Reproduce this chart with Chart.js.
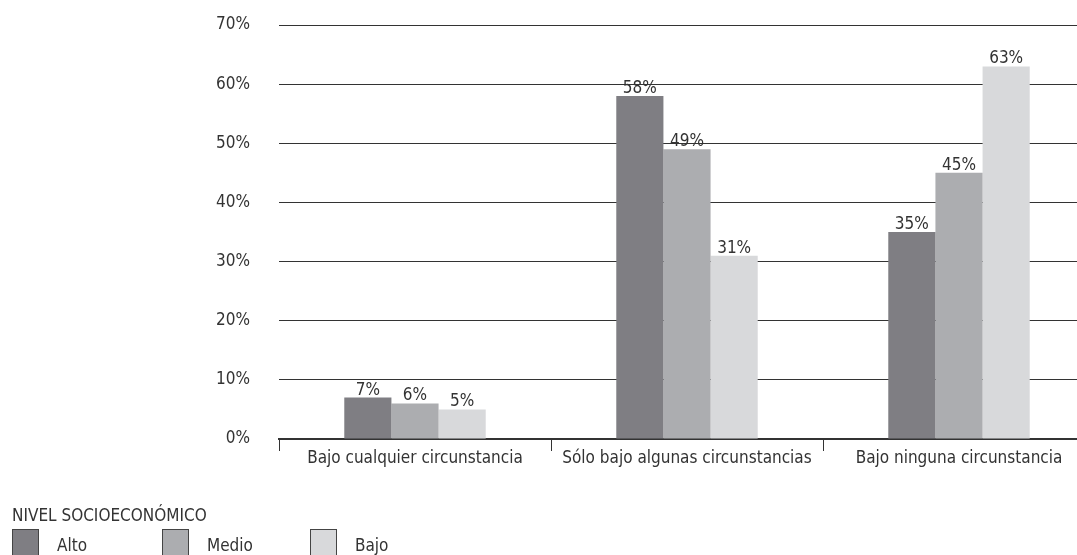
<!DOCTYPE html>
<html lang="es">
<head>
<meta charset="utf-8">
<script src="https://cdn.jsdelivr.net/npm/chart.js@4/dist/chart.umd.min.js"></script>
<style>
  html, body { margin: 0; padding: 0; background: #fff; }
  body { width: 1077px; height: 555px; position: relative; overflow: hidden;
         font-family: "Liberation Sans Narrow", "DejaVu Sans Condensed", sans-serif; color: #333; }
  #wrap { position: absolute; left: 0; top: 0; width: 1100px; height: 555px; }
  #legend { position: absolute; left: 12px; top: 505px; font-size: 17px; }
  #legend .items { position: relative; height: 40px; margin-top: 4px; }
  #legend .item { position: absolute; top: 0; display: flex; align-items: flex-start; }
  #legend .box { width: 27px; height: 27px; border: 1px solid #444; box-sizing: border-box; }
  #legend .label { margin-left: 18px; margin-top: 6px; }
</style>
</head>
<body>
<div id="wrap"><canvas id="chart" width="1100" height="555"></canvas></div>
<div id="legend">
  <div class="title">NIVEL SOCIOECONÓMICO</div>
  <div class="items" id="legend-items"></div>
</div>
<script>
"use strict";

// Share of respondents by socioeconomic level, per answer category.
const categories = ["Bajo cualquier circunstancia", "Sólo bajo algunas circunstancias", "Bajo ninguna circunstancia"];
const seriesNames = ["Alto", "Medio", "Bajo"];
const alto = [7, 58, 35];
const medio = [6, 49, 45];
const bajo = [5, 31, 63];
const colors = ["#7f7e83", "#acadb0", "#d8d9db"];
const yTicks = [0, 10, 20, 30, 40, 50, 60, 70];

const FONT = "'Liberation Sans Narrow', 'DejaVu Sans Condensed', sans-serif";
const INK = "#333";

// value labels sitting on top of each bar
const barLabels = {
  id: "barLabels",
  afterDatasetsDraw(chart) {
    const ctx = chart.ctx;
    ctx.save();
    ctx.font = "17px " + FONT;
    ctx.fillStyle = INK;
    ctx.textAlign = "center";
    ctx.textBaseline = "bottom";
    chart.data.datasets.forEach((ds, i) => {
      chart.getDatasetMeta(i).data.forEach((bar, j) => {
        ctx.fillText(ds.data[j] + "%", bar.x, bar.y + 1);
      });
    });
    ctx.restore();
  },
};

// the plot runs past the right edge of the page, so the canvas is a bit wider
// than the visible area and gets cropped by the body
new Chart(document.getElementById("chart"), {
  type: "bar",
  data: {
    labels: categories,
    datasets: [alto, medio, bajo].map((d, i) => ({
      label: seriesNames[i],
      data: d,
      backgroundColor: colors[i],
      borderWidth: 0,
      categoryPercentage: 0.52,
      barPercentage: 1,
    })),
  },
  options: {
    responsive: false,
    animation: false,
    layout: { padding: { top: 25, right: 5, bottom: 0, left: 0 } },
    plugins: { legend: { display: false }, tooltip: { enabled: false } },
    scales: {
      x: {
        afterFit: (s) => { s.height = 116; },
        border: { display: true, color: INK, width: 2 },
        grid: { offset: true, drawOnChartArea: false, drawTicks: true, tickLength: 12, color: INK },
        ticks: { color: INK, font: { family: FONT, size: 17 }, padding: -3, maxRotation: 0 },
      },
      y: {
        min: 0,
        max: 70,
        // tick padding would otherwise be added to the top/bottom gap as well
        afterFit: (s) => { s.width = 279; s.paddingTop = 0; s.paddingBottom = 0; },
        afterBuildTicks: (s) => { s.ticks = yTicks.map((v) => ({ value: v })); },
        border: { display: false },
        grid: { color: INK, lineWidth: 1, drawTicks: false },
        ticks: { color: INK, font: { family: FONT, size: 17 }, padding: 29, callback: (v) => v + "%" },
      },
    },
  },
  plugins: [barLabels],
});

// legend built from the same series names and colours
const legendX = [0, 150, 298];
document.getElementById("legend-items").innerHTML = seriesNames
  .map((n, i) => `<div class="item" style="left:${legendX[i]}px"><div class="box" style="background:${colors[i]}"></div><div class="label">${n}</div></div>`)
  .join("");
</script>
</body>
</html>
